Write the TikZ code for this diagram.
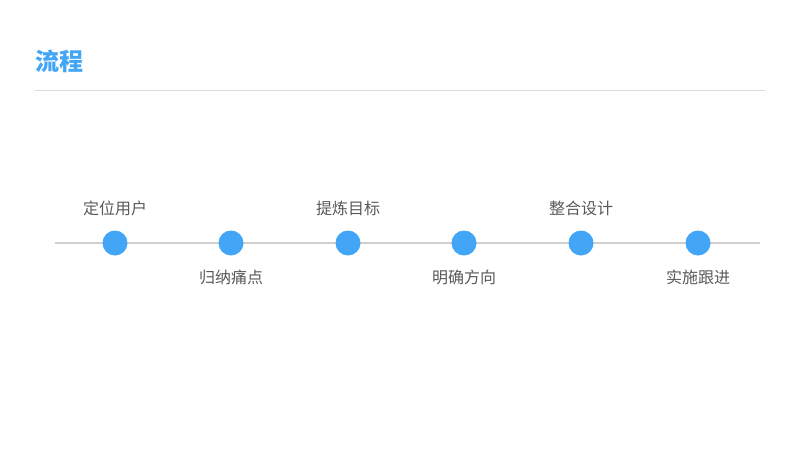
\documentclass[tikz,border=0pt]{standalone}
\usepackage{fontspec}
\setmainfont{Noto Sans CJK SC}
\usepackage{xcolor}
\definecolor{skyblue}{HTML}{42A5F5}
\definecolor{railgray}{HTML}{CFCFCF}
\definecolor{labelgray}{HTML}{595959}
\definecolor{rulegray}{HTML}{DADADA}
\usepackage{tikz}
\usetikzlibrary{positioning}

\begin{document}
\begin{tikzpicture}[
  x=1pt, y=-1pt,
  title/.style={text=skyblue, font=\fontsize{24}{28}\selectfont\bfseries, anchor=west, inner sep=0pt},
  dot/.style={circle, fill=skyblue, minimum size=25pt, inner sep=0pt},
  lbl/.style={text=labelgray, font=\fontsize{16}{19}\selectfont, inner sep=0pt},
  rail/.style={railgray, line width=1.8pt}
]
  \useasboundingbox (0,0) rectangle (800,450);

  \node[title] (head) at (35,61) {流程};
  \coordinate (rl) at (35,90);
  \coordinate (rr) at (765,90);
  \draw[rulegray, line width=1pt] (rl) -- (rr);

  % timeline
  \coordinate (tl) at (55,243);
  \coordinate (tr) at (760,243);
  \draw[rail] (tl) -- (tr);

  \node[dot] (d1) at (115,243) {};
  \node[dot] (d2) at (231,243) {};
  \node[dot] (d3) at (348,243) {};
  \node[dot] (d4) at (464,243) {};
  \node[dot] (d5) at (581,243) {};
  \node[dot] (d6) at (698,243) {};

  \node[lbl] (l1) at (115,208) {定位用户};
  \node[lbl] (l2) at (231,277) {归纳痛点};
  \node[lbl] (l3) at (348,208) {提炼目标};
  \node[lbl] (l4) at (464,277) {明确方向};
  \node[lbl] (l5) at (581,208) {整合设计};
  \node[lbl] (l6) at (698,277) {实施跟进};
\end{tikzpicture}
\end{document}
